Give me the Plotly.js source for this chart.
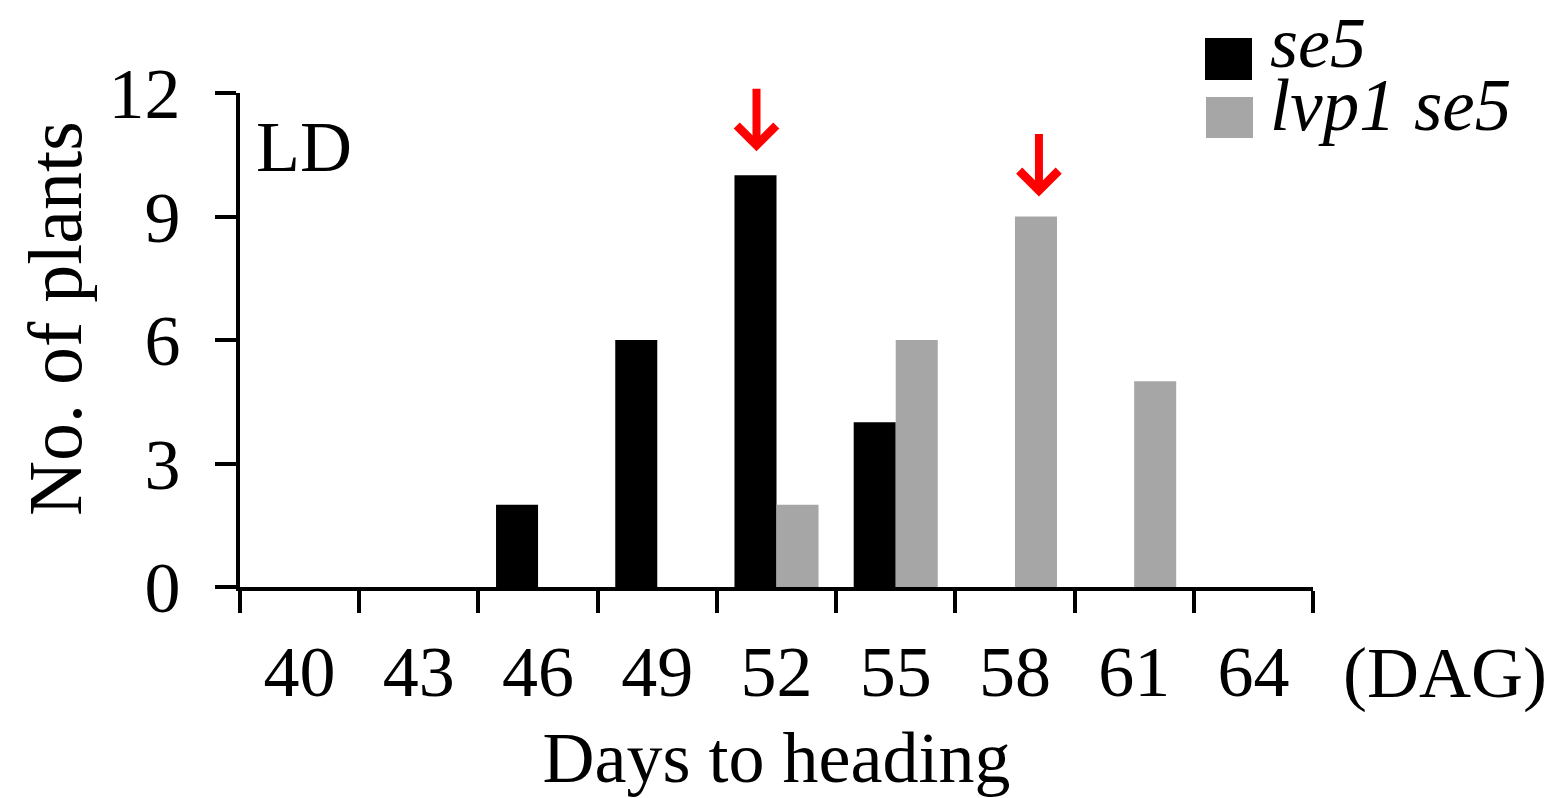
<!DOCTYPE html>
<html>
<head>
<meta charset="utf-8">
<script src="https://cdn.plot.ly/plotly-3.0.1.min.js"></script>
<style>html,body{margin:0;padding:0;background:#fff;}#chart{width:1560px;height:798px;}</style>
</head>
<body>
<div id="chart"></div>
<script>
// ---- data ----
const categories = ['40', '43', '46', '49', '52', '55', '58', '61', '64'];
const se5Values = [0, 0, 2, 6, 10, 4, 0, 0, 0];
const lvp1se5Values = [0, 0, 0, 0, 2, 6, 9, 5, 0];
const seriesNames = ['se5', 'lvp1 se5'];
const yTicks = [0, 3, 6, 9, 12];
const panelLabel = 'LD';
const unitLabel = '(DAG)';
const xTitle = 'Days to heading';
const yTitle = 'No. of plants';

// ---- style ----
const FONT = 'Liberation Serif, Times New Roman, serif';
const FS = 72;
const BLACK = '#000000';
const GRAY = '#a6a6a6';

function argmax(a) { let m = 0; for (let i = 1; i < a.length; i++) if (a[i] > a[m]) m = i; return m; }

const traces = [
  {type: 'bar', name: seriesNames[0], x: categories, y: se5Values,
   marker: {color: BLACK, line: {width: 0}}, showlegend: false, hoverinfo: 'x+y'},
  {type: 'bar', name: seriesNames[1], x: categories, y: lvp1se5Values,
   marker: {color: GRAY, line: {width: 0}}, showlegend: false, hoverinfo: 'x+y'}
];

// plot area geometry (pixels) for paper conversions
const L = 240, R = 1313, T = 93, B = 587;
const px = v => (v - L) / (R - L);
const py = v => (B - v) / (B - T);

const iA = argmax(se5Values), iB = argmax(lvp1se5Values);

const arrowStyle = {text: '', showarrow: true, axref: 'pixel', ayref: 'pixel', ax: 0, ay: -64,
  arrowcolor: '#ff0000', arrowwidth: 8, arrowhead: 4, arrowsize: 0.95, standoff: 0};

const annotations = [
  // peak arrows
  Object.assign({x: iA, y: se5Values[iA], xref: 'x', yref: 'y', xshift: -20, yshift: 24}, arrowStyle),
  Object.assign({x: iB, y: lvp1se5Values[iB], xref: 'x', yref: 'y', xshift: 24, yshift: 20}, arrowStyle),
  // panel label
  {text: panelLabel, xref: 'paper', yref: 'paper', x: px(254), y: py(147), xanchor: 'left', yanchor: 'middle',
   showarrow: false, font: {family: FONT, size: FS, color: BLACK}},
  // unit label
  {text: unitLabel, xref: 'paper', yref: 'paper', x: px(1445), y: py(673), xanchor: 'center', yanchor: 'middle',
   showarrow: false, font: {family: FONT, size: FS, color: BLACK}},
  // y axis title
  {text: yTitle, xref: 'paper', yref: 'paper', x: px(55), y: py(319), xanchor: 'center', yanchor: 'middle',
   textangle: -90, showarrow: false, font: {family: FONT, size: 76, color: BLACK}},
  // legend labels
  {text: '<i>' + seriesNames[0] + '</i>', xref: 'paper', yref: 'paper', x: px(1268), y: py(43), xanchor: 'left', yanchor: 'middle',
   showarrow: false, font: {family: FONT, size: FS, color: BLACK}},
  {text: '<i>' + seriesNames[1] + '</i>', xref: 'paper', yref: 'paper', x: px(1268), y: py(106), xanchor: 'left', yanchor: 'middle',
   showarrow: false, font: {family: FONT, size: 73, color: BLACK}}
];

const shapes = [
  {type: 'rect', xref: 'paper', yref: 'paper', x0: px(1205), x1: px(1252), y0: py(80), y1: py(38),
   fillcolor: BLACK, line: {width: 0}},
  {type: 'rect', xref: 'paper', yref: 'paper', x0: px(1206), x1: px(1253), y0: py(138), y1: py(97),
   fillcolor: GRAY, line: {width: 0}}
];

const layout = {
  width: 1560, height: 798,
  margin: {l: L, r: 1560 - R, t: T, b: 798 - B, pad: 0},
  paper_bgcolor: '#ffffff', plot_bgcolor: '#ffffff',
  font: {family: FONT, size: FS, color: BLACK},
  barmode: 'group', bargap: 0.295, bargroupgap: 0,
  showlegend: false,
  xaxis: {
    type: 'category', range: [-0.5, categories.length - 0.5],
    showline: true, linecolor: BLACK, linewidth: 4,
    ticks: 'outside', tickson: 'boundaries', ticklen: 22, tickwidth: 4, tickcolor: BLACK,
    showgrid: false, zeroline: false,
    tickfont: {family: FONT, size: FS, color: BLACK},
    ticklabelstandoff: 19,
    title: {text: xTitle, font: {family: FONT, size: FS, color: BLACK}, standoff: 25},
    automargin: false, fixedrange: true
  },
  yaxis: {
    range: [0, 12], tickmode: 'array', tickvals: yTicks, ticktext: yTicks.map(String),
    showline: true, linecolor: BLACK, linewidth: 4,
    ticks: 'outside', ticklen: 21, tickwidth: 4, tickcolor: BLACK,
    showgrid: false, zeroline: false,
    tickfont: {family: FONT, size: FS, color: BLACK},
    ticklabelstandoff: 20,
    automargin: false, fixedrange: true
  },
  annotations: annotations,
  shapes: shapes
};

Plotly.newPlot('chart', traces, layout, {displayModeBar: false, staticPlot: true});
</script>
</body>
</html>
